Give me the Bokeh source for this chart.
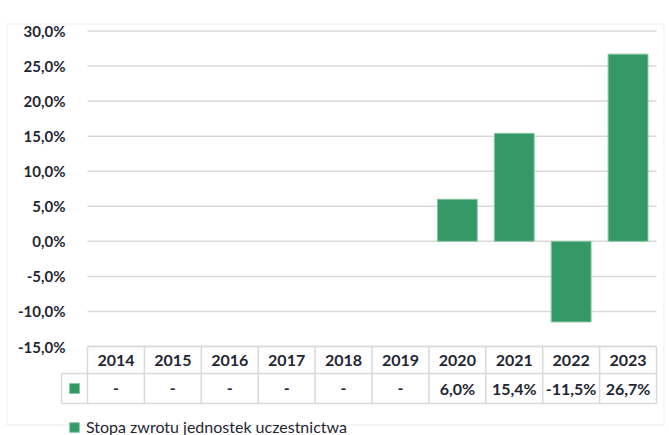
from bokeh.plotting import figure
from bokeh.models import (Range1d, FixedTicker, CustomJSTickFormatter, LinearAxis,
                          Legend, LegendItem, BoxAnnotation)
from bokeh.core.properties import value
from bokeh.embed import file_html
from bokeh.resources import INLINE

# ---- data ----
years = ["2014", "2015", "2016", "2017", "2018", "2019", "2020", "2021", "2022", "2023"]
returns = [None, None, None, None, None, None, 6.0, 15.4, -11.5, 26.7]
y_ticks = [-15, -10, -5, 0, 5, 10, 15, 20, 25, 30]
series_name = "Stopa zwrotu jednostek uczestnictwa"

# ---- layout constants (pixels, canvas coordinates) ----
W, H = 669, 435
GREEN = "#349966"
EDGE = "#86c7a2"
GRID = "#d9d9d9"
TXT = "#1f2733"
FONT_NAME = "Lato"
FONT = value(FONT_NAME)

col_w = 56.9            # px per category
x_left_px = 87.0        # canvas x of first column's left edge
y_top_px = 30.5         # canvas y of top tick
y_bot_px = 346.0        # canvas y of bottom tick (table top)
px_per = (y_bot_px - y_top_px) / (y_ticks[-1] - y_ticks[0])

def xd(px):  # canvas px -> data x
    return -0.5 + (px - x_left_px) / col_w

def yd(py):  # canvas px -> data y
    return y_ticks[-1] - (py - y_top_px) / px_per

n = len(years)
xs = list(range(n))

p = figure(width=W, height=H, output_backend="svg", toolbar_location=None,
           x_range=Range1d(xd(0), xd(W)), y_range=Range1d(yd(H), yd(0)),
           x_axis_location=None, y_axis_location=None,
           min_border=0, outline_line_color=None,
           background_fill_color="white", border_fill_color="white")
p.xgrid.visible = False
p.ygrid.visible = False

# outer chart border
p.add_layout(BoxAnnotation(left=6.5, right=663.5, top=10.5, bottom=411.5,
                           left_units="screen", right_units="screen",
                           top_units="screen", bottom_units="screen",
                           fill_color=None, line_color=GRID, line_width=1.5))

# gridlines at tick values
p.segment(x0=[-0.5] * len(y_ticks), x1=[n - 0.5] * len(y_ticks), y0=y_ticks, y1=y_ticks,
          line_color=GRID, line_width=1.5)

# bars
bx = [x for x, v in zip(xs, returns) if v is not None]
bv = [v for v in returns if v is not None]
bars = p.vbar(x=bx, top=bv, bottom=0, width=0.7, fill_color=GREEN,
              line_color=EDGE, line_width=1)

# data table
row1_bot = yd(y_bot_px + 27)
row2_bot = yd(y_bot_px + 57)
key_left = xd(61)
table_top = y_ticks[0]
# horizontal lines
p.segment(x0=[-0.5, key_left, key_left], x1=[n - 0.5] * 3,
          y0=[table_top, row1_bot, row2_bot], y1=[table_top, row1_bot, row2_bot],
          line_color=GRID, line_width=1.5)
# vertical lines
vx = [i - 0.5 for i in range(n + 1)]
p.segment(x0=vx, x1=vx, y0=[table_top] * len(vx), y1=[row2_bot] * len(vx),
          line_color=GRID, line_width=1.5)
p.segment(x0=[key_left], x1=[key_left], y0=[row1_bot], y1=[row2_bot],
          line_color=GRID, line_width=1.5)

# years row
p.text(x=xs, y=[(table_top + row1_bot) / 2] * n, text=years,
       text_align="center", text_baseline="middle", text_font=FONT,
       text_font_style="bold", text_font_size="16px", text_color=TXT)
# values row
labels = ["-" if v is None else f"{v:.1f}".replace(".", ",") + "%" for v in returns]
p.text(x=xs, y=[(row1_bot + row2_bot) / 2] * n, text=labels,
       text_align="center", text_baseline="middle", text_font=FONT,
       text_font_style="bold", text_font_size="16px", text_color=TXT)
# legend key in table
p.scatter(x=[xd(74)], y=[(row1_bot + row2_bot) / 2], marker="square", size=10,
          fill_color=GREEN, line_color=EDGE)

# y axis
yax = LinearAxis(fixed_location=-0.5, ticker=FixedTicker(ticks=y_ticks),
                 formatter=CustomJSTickFormatter(code="return tick.toFixed(1).replace('.', ',') + '%';"),
                 axis_line_color=None, major_tick_line_color=None, minor_tick_line_color=None,
                 major_label_standoff=16, major_label_text_font=FONT_NAME,
                 major_label_text_font_style="bold", major_label_text_font_size="15px",
                 major_label_text_color=TXT)
p.add_layout(yax, "left")

# legend
legend = Legend(items=[LegendItem(label=series_name, renderers=[bars])],
                location=(68, -1), padding=0, margin=0, spacing=0,
                glyph_width=12, glyph_height=12, label_height=14, label_standoff=6,
                label_text_font=FONT_NAME, label_text_font_size="16px", label_text_color=TXT,
                background_fill_alpha=0, border_line_color=None)
p.add_layout(legend)

open("out.html", "w").write(file_html(p, INLINE))
